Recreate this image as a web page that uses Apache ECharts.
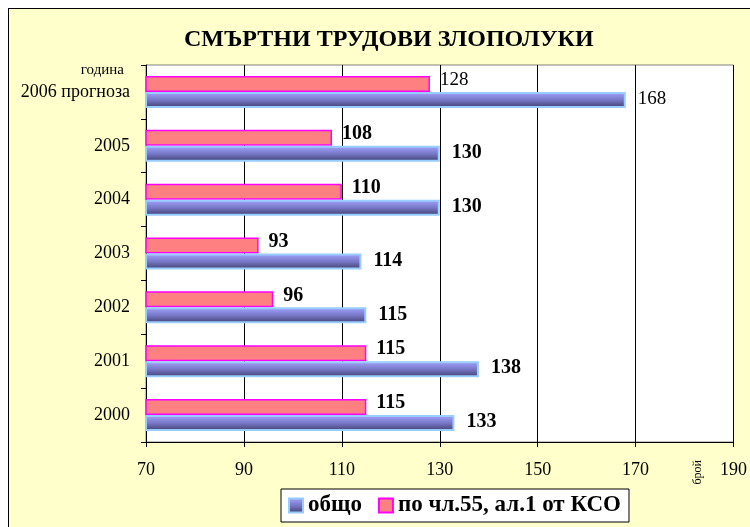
<!DOCTYPE html>
<html>
<head>
<meta charset="utf-8">
<script src="https://cdn.jsdelivr.net/npm/echarts@6/dist/echarts.min.js"></script>
<style>
    html, body { margin: 0; padding: 0; background: #fff; overflow: hidden; }
    #frame { position: absolute; left: 8px; top: 8px; width: 760px; height: 540px;
             border: 1px solid #000; background: #FFFFCC; }
    #chart { position: absolute; left: 0; top: 0; width: 750px; height: 527px; }
</style>
</head>
<body>
<div id="frame"></div>
<div id="chart"></div>
<script>
    // categories bottom -> top
    let years = ['2000', '2001', '2002', '2003', '2004', '2005', '2006 прогноза']
    let total = [133, 138, 115, 114, 130, 130, 168]
    let art55 = [115, 115, 96, 93, 110, 108, 128]
    let nameTotal = 'общо'
    let nameArt55 = 'по чл.55, ал.1 от КСО'

    let serif = 'Liberation Serif'

    // last category (forecast) labels are not bold
    function labelFmt(p) {
        return p.dataIndex === years.length - 1 ? '{n|' + p.value + '}' : '{b|' + p.value + '}'
    }
    let labelRich = {
        b: {fontFamily: serif, fontSize: 20, fontWeight: 'bold', color: '#000'},
        n: {fontFamily: serif, fontSize: 19, fontWeight: 'normal', color: '#000'}
    }

    let chart = echarts.init(document.getElementById('chart'))
    chart.setOption({
        animation: false,
        title: {
            text: 'СМЪРТНИ ТРУДОВИ ЗЛОПОЛУКИ',
            left: 184,
            top: 28,
            padding: 0,
            textStyle: {fontFamily: serif, fontSize: 24, fontWeight: 'bold', color: '#000'}
        },
        legend: {
            data: [nameTotal, nameArt55],
            left: 281,
            top: 489,
            padding: [5, 8, 5, 7],
            itemGap: 16,
            itemWidth: 14,
            itemHeight: 14,
            icon: 'rect',
            backgroundColor: '#fff',
            borderColor: '#000',
            borderWidth: 1,
            textStyle: {fontFamily: serif, fontSize: 23, fontWeight: 'bold', color: '#000'}
        },
        grid: {
            left: 146,
            right: 16,
            top: 65,
            bottom: 85,
            show: true,
            backgroundColor: '#fff',
            borderColor: '#808080',
            borderWidth: 1
        },
        xAxis: {
            type: 'value',
            min: 70,
            max: 190,
            interval: 20,
            axisLine: {show: true, lineStyle: {color: '#000', width: 1}},
            axisTick: {show: true, length: 5, lineStyle: {color: '#000'}},
            axisLabel: {fontFamily: serif, fontSize: 18, color: '#000', margin: 19},
            splitLine: {show: true, lineStyle: {color: '#000', width: 1}}
        },
        yAxis: {
            type: 'category',
            data: years,
            name: 'година',
            nameLocation: 'end',
            nameGap: -5,
            nameTextStyle: {
                fontFamily: serif, fontSize: 15, color: '#000',
                align: 'right', verticalAlign: 'middle', padding: [0, 22, 0, 0]
            },
            axisLine: {show: true, lineStyle: {color: '#000', width: 1}},
            axisTick: {show: true, length: 5, lineStyle: {color: '#000'}},
            axisLabel: {fontFamily: serif, fontSize: 18, color: '#000', margin: 16, padding: [4, 0, 0, 0]},
            splitLine: {show: false}
        },
        series: [
            {
                name: nameArt55,
                type: 'bar',
                data: art55,
                barWidth: 16,
                barGap: '0%',
                itemStyle: {color: '#FF8080', borderColor: '#FF00FF', borderWidth: 1.5},
                label: {
                    show: true, position: 'right', distance: 10, offset: [0, -4],
                    formatter: labelFmt, rich: labelRich
                }
            },
            {
                name: nameTotal,
                type: 'bar',
                data: total,
                barWidth: 16,
                barGap: '0%',
                itemStyle: {
                    color: new echarts.graphic.LinearGradient(0, 0, 0, 1, [
                        {offset: 0, color: '#a4a4ff'},
                        {offset: 0.5, color: '#7878c8'},
                        {offset: 1, color: '#3e3e6c'}
                    ]),
                    borderColor: '#99CCFF',
                    borderWidth: 2
                },
                label: {
                    show: true, position: 'right', distance: 12, offset: [0, -1],
                    formatter: labelFmt, rich: labelRich
                }
            }
        ],
        graphic: [
            {
                type: 'text',
                left: 692,
                top: 460,
                rotation: Math.PI / 2,
                style: {text: 'брой', fontFamily: serif, fontSize: 12, fill: '#000'}
            }
        ]
    })
</script>
</body>
</html>
